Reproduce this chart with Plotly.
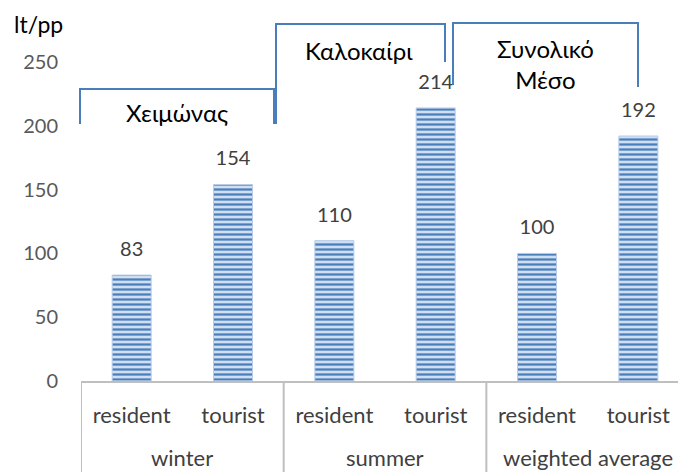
import plotly.graph_objects as go

seasons = ["winter", "summer", "weighted average"]
groups = ["resident", "tourist", "resident", "tourist", "resident", "tourist"]
values = [83, 154, 110, 214, 100, 192]
y_ticks = [0, 50, 100, 150, 200, 250]
bracket_labels = ["Χειμώνας", "Καλοκαίρι", "Συνολικό<br>Μέσο"]

# unique category keys (season + group) so each bar has its own slot
keys = [f"{seasons[i // 2]}|{g}" for i, g in enumerate(groups)]

OFF = 8  # page body margin
W, H = 686 - OFF, 472 - OFF
L, R, T, B = 81 - OFF, 0, 62 - OFF, 91
PW, PH = W - L - R, H - T - B

def px(x):
    return (x - OFF - L) / PW

def py(y):
    return (H - B - (y - OFF)) / PH

FONT = "Lato, Open Sans, sans-serif"

fig = go.Figure()
fig.add_trace(go.Bar(
    x=keys, y=values, width=0.385,
    marker=dict(color="#c9daf0",
                line=dict(color="#b8cce8", width=1),
                pattern=dict(shape="-", fgcolor="#4a7ebb", bgcolor="#d0def2",
                             size=5, solidity=0.45, fillmode="replace")),
    hoverinfo="skip",
))
fig.add_trace(go.Scatter(
    x=keys, y=values, mode="markers+text",
    text=[str(v) for v in values], textposition="top center",
    marker=dict(size=21, color="rgba(0,0,0,0)"),
    textfont=dict(size=20, color="#404040", family=FONT),
    hoverinfo="skip", cliponaxis=False,
))

# group labels under the axis and dividers between groups
for j, s in enumerate(seasons):
    fig.add_annotation(text=s, x=2 * j + 0.5, y=py(457), xref="x", yref="paper",
                       showarrow=False, xanchor="center", yanchor="middle",
                       font=dict(size=22, color="#404040", family=FONT))
grey = dict(color="#bfbfbf", width=2)
for j in range(len(seasons)):
    fig.add_shape(type="line", x0=2 * j - 0.5, x1=2 * j - 0.5, y0=py(381), y1=py(472),
                  xref="x", yref="paper", line=grey)

line = dict(color="#4a7ebb", width=2)
brackets = [
    [(80, 124), (80, 89), (274, 89), (274, 124)],
    [(276, 124), (276, 24), (445, 24), (445, 62)],
    [(453, 85), (453, 23), (638, 23), (638, 87)],
]
for pts in brackets:
    path = "M " + " L ".join(f"{px(x):.5f},{py(y):.5f}" for x, y in pts)
    fig.add_shape(type="path", path=path, xref="paper", yref="paper", line=line)

label_pos = [(177, 112), (359, 50), (545, 64)]
for txt, (x, y) in zip(bracket_labels, label_pos):
    fig.add_annotation(text=txt, x=px(x), y=py(y), xref="paper", yref="paper",
                       showarrow=False, font=dict(size=24, color="#000000", family=FONT),
                       xanchor="center", yanchor="middle")

fig.add_annotation(text="lt/pp", x=px(12), y=py(24), xref="paper", yref="paper",
                   showarrow=False, xanchor="left", yanchor="middle",
                   font=dict(size=23, color="#000000", family=FONT))

fig.update_layout(
    width=W, height=H, margin=dict(l=L, r=R, t=T, b=B, autoexpand=False),
    paper_bgcolor="white", plot_bgcolor="white",
    showlegend=False,
    font=dict(family=FONT),
)
fig.update_xaxes(
    type="category", range=[-0.5, 5.47],
    tickvals=keys, ticktext=groups,
    showline=True, linecolor="#bfbfbf", linewidth=2,
    tickfont=dict(size=22, color="#404040", family=FONT),
    ticks="", showgrid=False, ticklabelstandoff=14, automargin=False,
)
fig.update_yaxes(
    range=[0, 250], tickvals=y_ticks, showgrid=False, zeroline=False,
    showline=False, ticks="", ticklabelstandoff=22, automargin=False,
    tickfont=dict(size=20, color="#595959", family=FONT),
)
fig.write_html("out.html")
